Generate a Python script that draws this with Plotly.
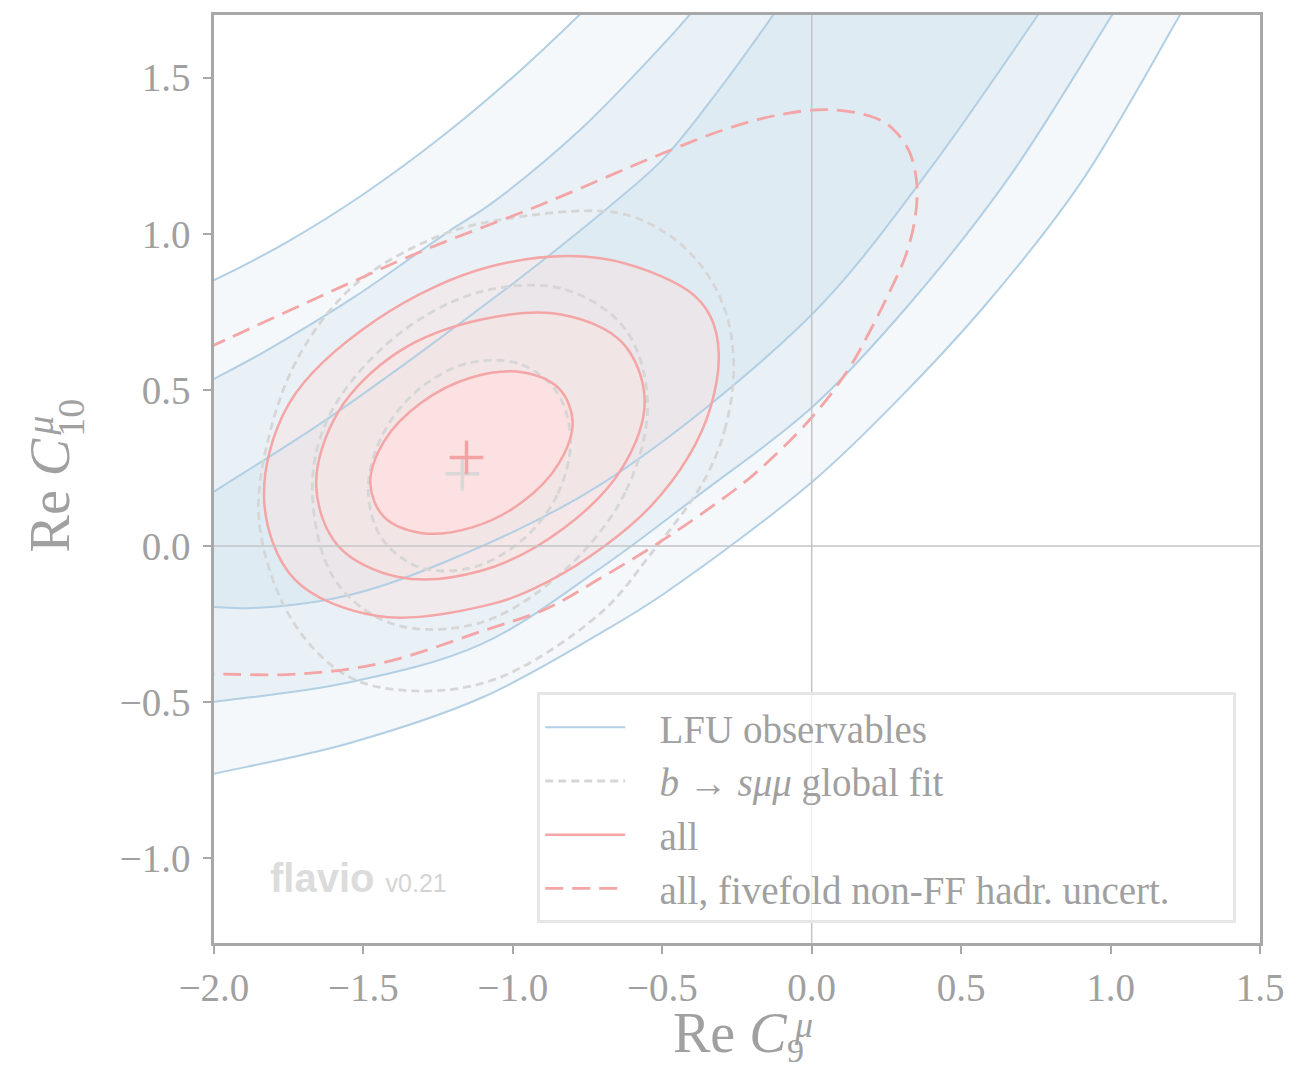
import plotly.graph_objects as go

# ---------------- data (Re C9, Re C10) ----------------
# LFU band boundaries (outer upper -> outer lower)
lfu_a_x = [-2.2, -2.0, -1.75, -1.5, -1.25, -1.0, -0.75, -0.55]
lfu_a_y = [0.770, 0.852, 0.977, 1.127, 1.302, 1.502, 1.727, 1.925]
lfu_b_x = [-2.2, -2.1, -1.999, -1.832, -1.530, -1.219, -1.068, -0.774, -0.492, -0.409, -0.318, -0.23]
lfu_b_y = [0.433, 0.484, 0.536, 0.622, 0.798, 1.005, 1.100, 1.334, 1.612, 1.701, 1.80, 1.90]
lfu_c_x = [-2.2, -2.1, -1.999, -1.644, -1.306, -0.941, -0.660, -0.492, -0.305, -0.131, -0.058, 0.012]
lfu_c_y = [0.052, 0.113, 0.175, 0.392, 0.622, 0.884, 1.101, 1.245, 1.468, 1.698, 1.80, 1.90]
lfu_d_x = [-2.2, -2.1, -1.999, -1.889, -1.644, -1.440, -0.995, -0.707, -0.348, 0.040, 0.399, 0.757, 0.828, 0.898]
lfu_d_y = [-0.185, -0.191, -0.195, -0.199, -0.176, -0.128, 0.047, 0.197, 0.447, 0.781, 1.212, 1.701, 1.80, 1.90]
lfu_e_x = [-2.2, -2.1, -1.999, -1.554, -1.105, -0.707, -0.372, 0.003, 0.332, 0.666, 1.005, 1.07, 1.135]
lfu_e_y = [-0.527, -0.513, -0.499, -0.438, -0.314, -0.071, 0.168, 0.446, 0.781, 1.189, 1.701, 1.80, 1.90]
lfu_f_x = [-2.2, -2.1, -1.999, -1.554, -1.105, -0.707, -0.492, 0.003, 0.298, 0.589, 0.901, 1.232, 1.292, 1.352]
lfu_f_y = [-0.773, -0.751, -0.729, -0.633, -0.486, -0.279, -0.151, 0.207, 0.478, 0.781, 1.165, 1.701, 1.80, 1.90]

# "all" contours (1, 2, 3 sigma), closed curves
all1_x = [-0.800, -0.846, -0.970, -1.139, -1.308, -1.432, -1.477, -1.432, -1.308, -1.139, -0.970, -0.846]
all1_y = [0.398, 0.265, 0.140, 0.059, 0.042, 0.094, 0.201, 0.334, 0.458, 0.540, 0.557, 0.505]
all2_x = [-0.559, -0.633, -0.834, -1.109, -1.383, -1.584, -1.658, -1.584, -1.383, -1.109, -0.834, -0.633]
all2_y = [0.469, 0.252, 0.054, -0.080, -0.099, 0.000, 0.194, 0.430, 0.622, 0.725, 0.741, 0.651]
all3_x = [-0.311, -0.338, -0.412, -0.539, -0.693, -0.881, -1.072, -1.453, -1.731, -1.832, -1.749,
          -1.453, -1.072, -0.707, -0.412, -0.338]
all3_y = [0.615, 0.446, 0.287, 0.127, 0.000, -0.113, -0.186, -0.224, -0.106, 0.143, 0.456,
          0.727, 0.896, 0.922, 0.817, 0.734]

# b -> s mu mu global fit contours (1, 2, 3 sigma), closed curves
glob1_x = [-0.807, -0.852, -0.976, -1.145, -1.314, -1.438, -1.484, -1.438, -1.314, -1.145, -0.976, -0.852]
glob1_y = [0.338, 0.163, 0.013, -0.071, -0.067, 0.024, 0.178, 0.353, 0.503, 0.587, 0.583, 0.492]
glob2_x = [-0.549, -0.624, -0.830, -1.110, -1.403, -1.597, -1.671, -1.611, -1.390, -1.110, -0.830, -0.624]
glob2_y = [0.456, 0.172, -0.080, -0.246, -0.249, -0.106, 0.184, 0.424, 0.673, 0.814, 0.823, 0.695]
glob3_x = [-0.261, -0.288, -0.362, -0.539, -0.707, -1.055, -1.330, -1.554, -1.741, -1.849, -1.812,
           -1.708, -1.530, -1.273, -1.055, -0.660, -0.492, -0.368, -0.288]
glob3_y = [0.574, 0.383, 0.207, -0.026, -0.215, -0.425, -0.464, -0.416, -0.234, 0.079, 0.367,
           0.622, 0.836, 0.983, 1.043, 1.069, 1.005, 0.896, 0.750]

# "all, fivefold non-FF hadr. uncert." 1 sigma contour (open at the left edge)
five_x = [-2.1, -1.999, -1.554, -1.296, -0.904, -0.516, -0.301, -0.121, 0.057, 0.211, 0.275, 0.328,
          0.352, 0.345, 0.315, 0.265, 0.188, 0.124, 0.003, -0.194, -0.372, -0.529, -0.707, -0.884,
          -1.105, -1.440, -1.721, -1.999, -2.1]
five_y = [0.600, 0.644, 0.839, 0.948, 1.094, 1.251, 1.331, 1.379, 1.398, 1.372, 1.333, 1.260,
          1.155, 1.046, 0.932, 0.823, 0.676, 0.568, 0.415, 0.229, 0.101, 0.000, -0.103, -0.199,
          -0.273, -0.375, -0.410, -0.410, -0.410]

# best-fit points
best_all = (-1.155, 0.284)
best_glob = (-1.169, 0.232)

x_ticks = [-2.0, -1.5, -1.0, -0.5, 0.0, 0.5, 1.0, 1.5]
y_ticks = [-1.0, -0.5, 0.0, 0.5, 1.0, 1.5]
x_range = [-2.0, 1.5]
y_range = [-1.2714, 1.701]

legend_names = ["LFU observables", "<i>b</i> → <i>sμμ</i> global fit", "all",
                "all, fivefold non-FF hadr. uncert."]

# ---------------- styles ----------------
BLUE_LINE = "#b2cfe4"
BLUE_FILL = "rgba(110,160,205,0.075)"
RED_LINE = "#f4a5a6"
GRAY_LINE = "#d6d6d6"
TXT = "#a0a0a0"
SERIF = "Liberation Serif"
PAD = "\u00a0\u00a0\u00a0"
TAIL = "\u00a0" * 6

fig = go.Figure()


def closed(xs, ys):
    return list(xs) + [xs[0]], list(ys) + [ys[0]]


# LFU filled bands (stacked translucent layers)
for up_x, up_y, lo_x, lo_y in [(lfu_a_x, lfu_a_y, lfu_f_x, lfu_f_y),
                               (lfu_b_x, lfu_b_y, lfu_e_x, lfu_e_y),
                               (lfu_c_x, lfu_c_y, lfu_d_x, lfu_d_y)]:
    fig.add_trace(go.Scatter(
        x=up_x + lo_x[::-1], y=up_y + lo_y[::-1], mode="lines", fill="toself",
        fillcolor=BLUE_FILL, line=dict(width=0, shape="spline", smoothing=1),
        showlegend=False, hoverinfo="skip"))

# "all" filled contours
for (cx, cy), fc in [((all3_x, all3_y), "rgba(255,221,218,0.35)"),
                     ((all2_x, all2_y), "rgba(252,227,223,0.40)"),
                     ((all1_x, all1_y), "rgba(255,223,224,0.70)")]:
    xx, yy = closed(cx, cy)
    fig.add_trace(go.Scatter(
        x=xx, y=yy, mode="lines", fill="toself", fillcolor=fc,
        line=dict(width=0, shape="spline", smoothing=1),
        showlegend=False, hoverinfo="skip"))

# LFU lines
for i, (cx, cy) in enumerate([(lfu_a_x, lfu_a_y), (lfu_b_x, lfu_b_y), (lfu_c_x, lfu_c_y),
                              (lfu_d_x, lfu_d_y), (lfu_e_x, lfu_e_y), (lfu_f_x, lfu_f_y)]):
    fig.add_trace(go.Scatter(
        x=cx, y=cy, mode="lines", line=dict(color=BLUE_LINE, width=2, shape="spline", smoothing=1),
        name=PAD + legend_names[0], legendgroup="lfu", legendrank=1, showlegend=(i == 0),
        hoverinfo="skip"))

# global-fit dashed lines
for i, (cx, cy) in enumerate([(glob1_x, glob1_y), (glob2_x, glob2_y), (glob3_x, glob3_y)]):
    xx, yy = closed(cx, cy)
    fig.add_trace(go.Scatter(
        x=xx, y=yy, mode="lines",
        line=dict(color=GRAY_LINE, width=2.8, dash="8px,5px", shape="spline", smoothing=1),
        name=PAD + legend_names[1], legendgroup="glob", legendrank=2, showlegend=(i == 0),
        hoverinfo="skip"))

# "all" solid lines
for i, (cx, cy) in enumerate([(all1_x, all1_y), (all2_x, all2_y), (all3_x, all3_y)]):
    xx, yy = closed(cx, cy)
    fig.add_trace(go.Scatter(
        x=xx, y=yy, mode="lines",
        line=dict(color=RED_LINE, width=2.5, shape="spline", smoothing=1),
        name=PAD + legend_names[2], legendgroup="all", legendrank=3, showlegend=(i == 0),
        hoverinfo="skip"))

# fivefold dashed
fig.add_trace(go.Scatter(
    x=five_x, y=five_y, mode="lines",
    line=dict(color=RED_LINE, width=2.8, dash="18px,9px", shape="spline", smoothing=1),
    name=PAD + legend_names[3] + TAIL, legendgroup="five", legendrank=4, showlegend=True,
    hoverinfo="skip"))

# best-fit markers
fig.add_trace(go.Scatter(
    x=[best_glob[0]], y=[best_glob[1]], mode="markers",
    marker=dict(symbol="cross-thin", size=24, line=dict(color="#d8d8d8", width=3.5)),
    showlegend=False, hoverinfo="skip"))
fig.add_trace(go.Scatter(
    x=[best_all[0]], y=[best_all[1]], mode="markers",
    marker=dict(symbol="cross-thin", size=24, line=dict(color="#f2a3a4", width=3.5)),
    showlegend=False, hoverinfo="skip"))

# zero lines
fig.add_shape(type="line", xref="x", yref="paper", x0=0, x1=0, y0=0, y1=1,
              line=dict(color="#c4c4c4", width=1.5), layer="above")
fig.add_shape(type="line", xref="paper", yref="y", x0=0, x1=1, y0=0, y1=0,
              line=dict(color="#c4c4c4", width=1.5), layer="above")

axis_common = dict(showline=True, mirror=True, linecolor="#a8a8a8", linewidth=2.5,
                   ticks="outside", ticklen=8, tickwidth=2, tickcolor="#a8a8a8",
                   showgrid=False, zeroline=False, tickformat=".1f",
                   tickfont=dict(family=SERIF, size=39, color=TXT))

# page body has an 8px margin: the figure is sized/offset so the plot area lands
# on x 214..1260, y 12..943 of the window
fig.update_layout(
    width=1294, height=1060,
    margin=dict(l=206, r=42, t=4, b=125),
    paper_bgcolor="white", plot_bgcolor="white",
    xaxis=dict(range=x_range, tickvals=x_ticks, ticklabelstandoff=0, **axis_common),
    yaxis=dict(range=y_range, tickvals=y_ticks, ticklabelstandoff=5, **axis_common),
    legend=dict(x=0.309, y=0.270, xanchor="left", yanchor="top",
                bgcolor="rgba(255,255,255,0.75)", bordercolor="#e6e6e6", borderwidth=3,
                font=dict(family=SERIF, size=39, color=TXT), itemwidth=80,
                tracegroupgap=0),
)

# axis titles (annotations so that super/subscripts can be stacked)
fig.add_annotation(x=0.4933, y=-0.0967, xref="paper", yref="paper", xanchor="center",
                   yanchor="middle", showarrow=False, text="Re <i>C</i>",
                   font=dict(family=SERIF, size=56, color=TXT))
fig.add_annotation(x=0.5631, y=-0.0880, xref="paper", yref="paper", xanchor="center",
                   yanchor="middle", showarrow=False, text="<i>μ</i>",
                   font=dict(family=SERIF, size=36, color=TXT))
fig.add_annotation(x=0.5564, y=-0.1160, xref="paper", yref="paper", xanchor="center",
                   yanchor="middle", showarrow=False, text="9",
                   font=dict(family=SERIF, size=34, color=TXT))

fig.add_annotation(x=-0.1568, y=0.4823, xref="paper", yref="paper", xanchor="center",
                   yanchor="middle", showarrow=False, text="Re <i>C</i>", textangle=-90,
                   font=dict(family=SERIF, size=56, color=TXT))
fig.add_annotation(x=-0.1663, y=0.5575, xref="paper", yref="paper", xanchor="center",
                   yanchor="middle", showarrow=False, text="<i>μ</i>", textangle=-90,
                   font=dict(family=SERIF, size=38, color=TXT))
fig.add_annotation(x=-0.1367, y=0.5661, xref="paper", yref="paper", xanchor="center",
                   yanchor="middle", showarrow=False, text="10", textangle=-90,
                   font=dict(family=SERIF, size=38, color=TXT))

# watermark
fig.add_annotation(x=0.0516, y=0.0698, xref="paper", yref="paper", xanchor="left",
                   yanchor="middle", showarrow=False,
                   text="<b>flavio</b> <span style='font-size:25px;color:#d4d4d4'>v0.21</span>",
                   font=dict(family="Liberation Sans", size=40, color="#dcdcdc"))

fig.write_html("out.html")
